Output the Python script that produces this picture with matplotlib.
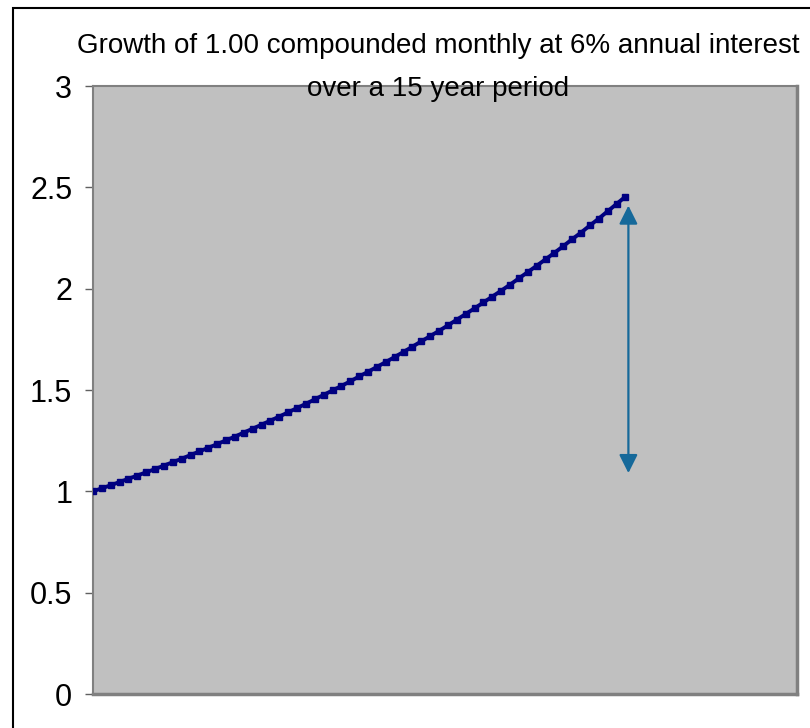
import matplotlib
matplotlib.use("Agg")
import matplotlib.pyplot as plt
from matplotlib.patches import Rectangle

# Quarterly values (months 0, 3, ..., 180)
months = list(range(0, 181, 3))
values = [1.000, 1.015, 1.030, 1.046, 1.062, 1.078, 1.094, 1.110, 1.127, 1.144,
          1.161, 1.179, 1.197, 1.215, 1.233, 1.252, 1.270, 1.290, 1.309, 1.329,
          1.349, 1.369, 1.390, 1.411, 1.432, 1.454, 1.476, 1.498, 1.520, 1.543,
          1.567, 1.590, 1.614, 1.638, 1.663, 1.688, 1.714, 1.740, 1.766, 1.792,
          1.819, 1.847, 1.875, 1.903, 1.932, 1.961, 1.990, 2.020, 2.051, 2.082,
          2.113, 2.145, 2.177, 2.210, 2.244, 2.277, 2.312, 2.346, 2.382, 2.418,
          2.454]
yticks = [0, 0.5, 1, 1.5, 2, 2.5, 3]
ytick_labels = ["0", "0.5", "1", "1.5", "2", "2.5", "3"]
arrow_month = 181
arrow_top = 2.41
arrow_bottom = 1.09
x_max_month = 238
title_line1 = "Growth of 1.00 compounded monthly at 6% annual interest"
title_line2 = "over a 15 year period"

fam = "Liberation Sans"

W, H = 810, 728
fig = plt.figure(figsize=(W / 100, H / 100), dpi=100)
fig.patch.set_facecolor("white")

L, R, T, B = 93, 797, 86, 694
ax = fig.add_axes([L / W, 1 - B / H, (R - L) / W, (B - T) / H])
ax.set_facecolor("#C0C0C0")
ax.set_xlim(0, x_max_month)
ax.set_ylim(0, 3)

ax.plot(months, values, color="#000080", lw=2.8, marker="s", ms=5,
        mec="#000080", mfc="#000080", solid_joinstyle="miter", zorder=3)

ax.annotate("", xy=(arrow_month, arrow_top), xytext=(arrow_month, arrow_bottom),
            arrowprops=dict(arrowstyle="<|-|>", color="#16699A", lw=1.6,
                            mutation_scale=28, shrinkA=0, shrinkB=0), zorder=4)

ax.set_yticks(yticks)
ax.set_yticklabels(ytick_labels, fontsize=22, family=fam)
ax.set_xticks([])
ax.tick_params(axis="y", direction="out", length=6, width=1, color="#606060", pad=9)
for s in ["left", "top"]:
    ax.spines[s].set_color("#808080")
    ax.spines[s].set_linewidth(1.5)
for s in ["right", "bottom"]:
    ax.spines[s].set_color("#808080")
    ax.spines[s].set_linewidth(2.5)

fig.text(438 / W, 1 - 46 / H, title_line1, ha="center", va="center", fontsize=20,
         family=fam, zorder=10)
fig.text(438 / W, 1 - 89 / H, title_line2, ha="center", va="center", fontsize=20,
         family=fam, zorder=10)

fig.patches.append(Rectangle((13 / W, -0.05), 1.2, 1 - 8 / H + 0.05,
                             transform=fig.transFigure, fill=False,
                             edgecolor="black", lw=1.5))

fig.savefig("out.png", dpi=100)
